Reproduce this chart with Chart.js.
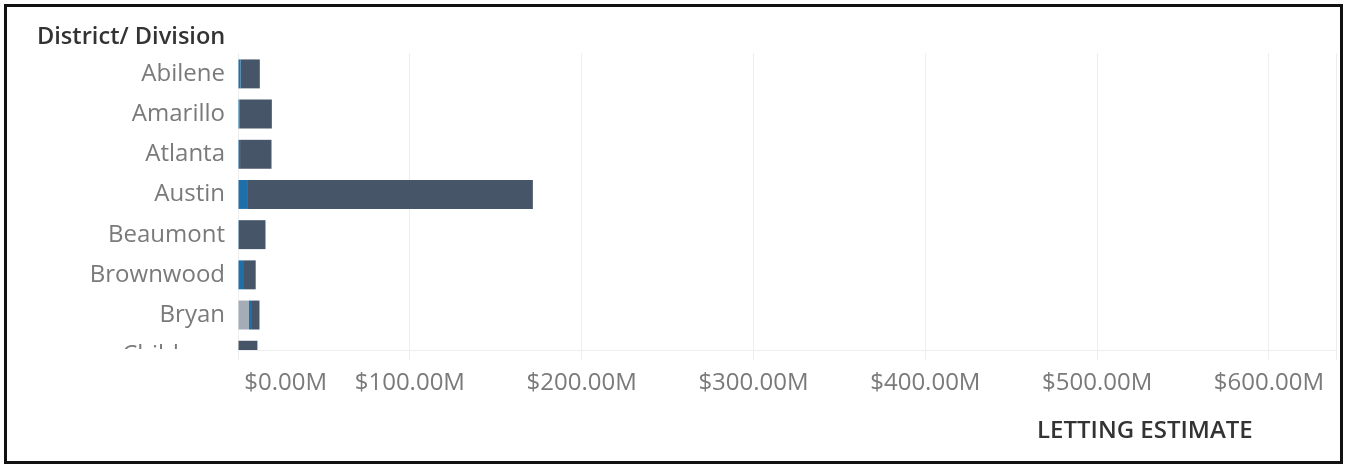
<!DOCTYPE html>
<html>
<head>
<meta charset="utf-8">
<script src="https://cdn.jsdelivr.net/npm/chart.js@4"></script>
<style>
    body { margin: 0; background: #fff; }
    #wrap { position: relative; width: 1345px; height: 465px; overflow: hidden; }
    #frame { position: absolute; left: 4px; top: 4px; width: 1339px; height: 460px; box-sizing: border-box; border: 3px solid #111; pointer-events: none; }
    .axisTitle { position: absolute; font-family: 'Open Sans', sans-serif; color: #333; line-height: 1; white-space: nowrap; }
    #yTitle { left: 37px; top: 24px; font-size: 23.6px; font-weight: 600; }
    #xTitle { left: 1037px; top: 417px; font-size: 24px; font-weight: 600; }
</style>
</head>
<body>
<div id="wrap">
    <canvas id="chart"></canvas>
    <div class="axisTitle" id="yTitle">District/ Division</div>
    <div class="axisTitle" id="xTitle">LETTING ESTIMATE</div>
    <div id="frame"></div>
</div>
<script>
// letting estimate, $ millions
const districts = ['Abilene', 'Amarillo', 'Atlanta', 'Austin', 'Beaumont', 'Brownwood', 'Bryan', 'Childress'];
const greyValues = [0, 0, 0, 0, 0, 0, 6.4, 0];
const blueValues = [1.5, 1.0, 1.2, 5.8, 0.5, 3.5, 1.2, 0.3];
const navyValues = [11.2, 18.7, 18.3, 165.8, 15.5, 6.8, 4.9, 11.0];
const xTicks = [0, 100, 200, 300, 400, 500, 600];

const tickFont = { family: "'Open Sans', sans-serif", size: 24 };
const tickColor = '#7a7a7a';
const gridColor = '#eeeeee';

function toPoints(values) {
    return values.map((v, i) => ({ x: v, y: i }));
}

// hides the part of the last row label that falls below the plot, like the scrolled view
const clipLabels = {
    id: 'clipLabels',
    afterDraw(chart) {
        const { ctx, chartArea } = chart;
        ctx.save();
        ctx.fillStyle = '#fff';
        ctx.fillRect(0, chartArea.bottom - 1, chartArea.left - 2, 20);
        ctx.restore();
    }
};

const ctx = document.getElementById('chart').getContext('2d');
new Chart(ctx, {
    type: 'bar',
    data: {
        datasets: [
            { label: 'Grey', data: toPoints(greyValues), backgroundColor: '#a3acb7' },
            { label: 'Blue', data: toPoints(blueValues), backgroundColor: '#1f6fab' },
            { label: 'Navy', data: toPoints(navyValues), backgroundColor: '#475569' }
        ]
    },
    options: {
        indexAxis: 'y',
        responsive: true,
        maintainAspectRatio: false,
        animation: false,
        datasets: { bar: { grouped: false, categoryPercentage: 0.8, barPercentage: 0.9, borderWidth: 0 } },
        layout: { padding: { top: 53, right: 5, left: 0, bottom: 0 } },
        scales: {
            x: {
                type: 'linear',
                stacked: true,
                min: 0,
                max: 639,
                afterBuildTicks: (scale) => {
                    scale.ticks = xTicks.map(v => ({ value: v })).concat([{ value: 639 }]);
                },
                afterFit: (scale) => { scale.height = 115; },
                grid: { color: gridColor, tickLength: 10, lineWidth: 1 },
                border: { display: true, color: gridColor },
                ticks: {
                    color: tickColor,
                    font: tickFont,
                    padding: 9,
                    align: 'inner',
                    maxRotation: 0,
                    autoSkip: false,
                    callback: (v) => {
                        if (!xTicks.includes(v)) return '';
                        return (v === 0 ? ' ' : '') + '$' + v.toFixed(2) + 'M';
                    }
                }
            },
            y: {
                type: 'linear',
                reverse: true,
                offset: false,
                min: -0.52,
                max: 6.87,
                afterBuildTicks: (scale) => {
                    scale.ticks = districts.map((d, i) => ({ value: i }));
                },
                afterFit: (scale) => { scale.width = 238; },
                grid: { display: false, drawTicks: false, offset: false },
                border: { display: false },
                ticks: {
                    color: tickColor,
                    font: tickFont,
                    padding: 13,
                    autoSkip: false,
                    callback: (v) => districts[v]
                }
            }
        },
        plugins: {
            legend: { display: false },
            tooltip: { enabled: false }
        }
    },
    plugins: [clipLabels]
});
</script>
</body>
</html>
